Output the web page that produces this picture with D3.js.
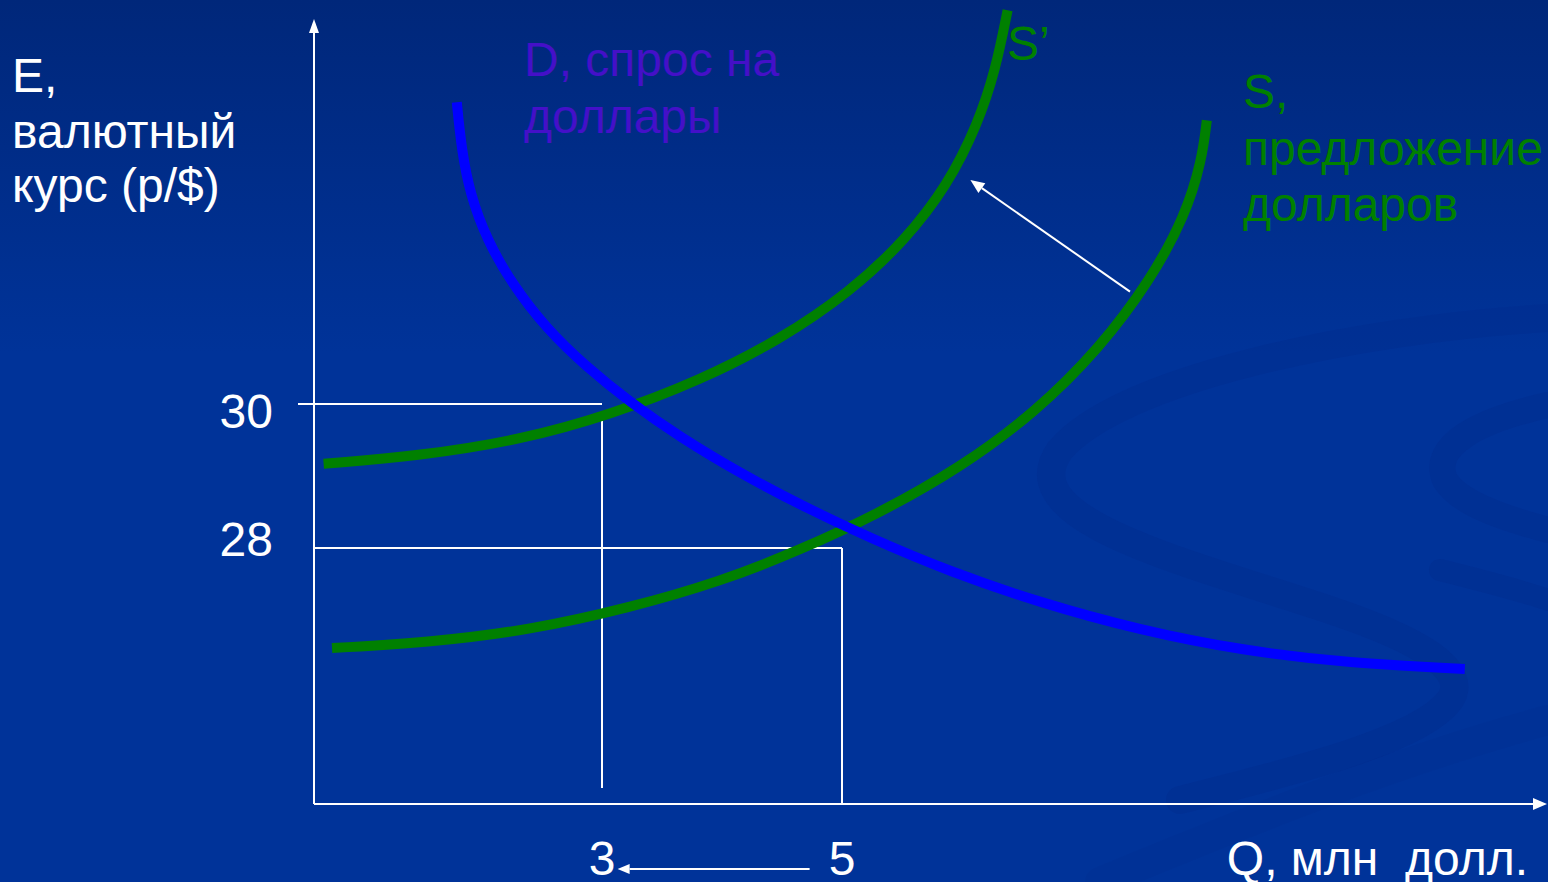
<!DOCTYPE html>
<html>
<head>
<meta charset="utf-8">
<script src="https://cdn.jsdelivr.net/npm/d3@7"></script>
<style>
  html, body { margin: 0; padding: 0; background: #003399; overflow: hidden; }
  svg { display: block; font-family: "Liberation Sans", Arial, sans-serif; }
  text { white-space: pre; }
</style>
</head>
<body>
<svg id="chart" width="1548" height="882"></svg>
<script>
// demand for dollars, D  [quantity, rate]
const demand = [
  [1.79, 34.19], [1.83, 33.53], [1.90, 32.92], [2.04, 32.28], [2.25, 31.67],
  [2.53, 31.06], [2.86, 30.53], [3.23, 30.03], [3.65, 29.54], [4.15, 29.04],
  [4.65, 28.60], [5.23, 28.14], [5.90, 27.67], [6.65, 27.24], [7.48, 26.86],
  [8.32, 26.58], [9.23, 26.40], [10.19, 26.32]
]

// supply of dollars, S
const supply = [
  [0.75, 26.61], [1.57, 26.69], [2.40, 26.86], [3.23, 27.17], [3.98, 27.53],
  [4.65, 27.97], [5.32, 28.49], [5.98, 29.11], [6.61, 29.88], [7.15, 30.78],
  [7.57, 31.72], [7.86, 32.61], [8.00, 33.39], [8.04, 33.94]
]

// shifted supply, S'
const supplyShift = [
  [0.68, 29.17], [1.48, 29.28], [2.32, 29.50], [3.07, 29.85], [3.82, 30.33],
  [4.48, 30.89], [5.07, 31.56], [5.53, 32.28], [5.88, 33.04], [6.13, 33.88],
  [6.28, 34.64], [6.38, 35.47]
]

const rateTicks = [30, 28]
const qtyTicks = [3, 5]

const width = 1548, height = 882
const svg = d3.select('#chart')

// scales anchored on the two marked values of each axis
const x = d3.scaleLinear().domain([3, 5]).range([602, 842])
const y = d3.scaleLinear().domain([28, 30]).range([548, 404])

const originX = 314, originY = 804

// background
const defs = svg.append('defs')
const grad = defs.append('linearGradient')
  .attr('id', 'bg').attr('x1', 0).attr('y1', 0).attr('x2', 0).attr('y2', 1)
grad.append('stop').attr('offset', '0%').attr('stop-color', '#00277a')
grad.append('stop').attr('offset', '40%').attr('stop-color', '#003399')
grad.append('stop').attr('offset', '100%').attr('stop-color', '#003399')

svg.append('rect')
  .attr('width', width).attr('height', height)
  .attr('fill', 'url(#bg)')

// faint swirl in the background on the right
const swirl = svg.append('g')
  .attr('fill', 'none')
  .attr('stroke', '#002c8e')
  .attr('stroke-opacity', 0.45)
  .attr('stroke-linecap', 'round')

swirl.append('path')
  .attr('stroke-width', 28)
  .attr('d', 'M1548,318 C1350,330 1120,380 1060,450 C1010,520 1180,560 1330,610 C1420,640 1470,670 1450,700 C1420,740 1300,770 1180,800')
swirl.append('path')
  .attr('stroke-width', 26)
  .attr('d', 'M1548,405 C1480,420 1430,445 1445,480 C1460,505 1510,520 1548,530')
swirl.append('path')
  .attr('stroke-width', 22)
  .attr('d', 'M1440,570 C1480,580 1520,590 1548,600')
swirl.append('path')
  .attr('stroke-width', 30)
  .attr('stroke-opacity', 0.2)
  .attr('d', 'M1100,882 C1250,820 1400,760 1548,720')

// guide lines
const guides = svg.append('g')
  .attr('stroke', '#ffffff')
  .attr('stroke-width', 2)

guides.append('line')
  .attr('x1', originX - 16).attr('x2', x(3))
  .attr('y1', y(30)).attr('y2', y(30))
guides.append('line')
  .attr('x1', x(3)).attr('x2', x(3))
  .attr('y1', y(30) + 17).attr('y2', originY - 16)
guides.append('line')
  .attr('x1', originX).attr('x2', x(5))
  .attr('y1', y(28)).attr('y2', y(28))
guides.append('line')
  .attr('x1', x(5)).attr('x2', x(5))
  .attr('y1', y(28)).attr('y2', originY)

// axes
guides.append('line')
  .attr('x1', originX).attr('x2', originX)
  .attr('y1', originY).attr('y2', 30)
guides.append('line')
  .attr('x1', originX).attr('x2', 1536)
  .attr('y1', originY).attr('y2', originY)

svg.append('path')
  .attr('fill', '#ffffff')
  .attr('d', `M${originX},19 L${originX - 5},33 L${originX + 5},33 Z`)
svg.append('path')
  .attr('fill', '#ffffff')
  .attr('d', `M1547,${originY} L1533,${originY - 6} L1533,${originY + 6} Z`)

// curves
const line = d3.line()
  .x(d => x(d[0]))
  .y(d => y(d[1]))
  .curve(d3.curveBasis)

svg.append('path')
  .datum(supplyShift)
  .attr('d', line)
  .attr('fill', 'none')
  .attr('stroke', '#008000')
  .attr('stroke-width', 10)

svg.append('path')
  .datum(supply)
  .attr('d', line)
  .attr('fill', 'none')
  .attr('stroke', '#008000')
  .attr('stroke-width', 10)

svg.append('path')
  .datum(demand)
  .attr('d', line)
  .attr('fill', 'none')
  .attr('stroke', '#0000ff')
  .attr('stroke-width', 10)

// arrows
function arrow(x1, y1, x2, y2, len, half) {
  const ang = Math.atan2(y2 - y1, x2 - x1)
  const bx = x2 - len * Math.cos(ang), by = y2 - len * Math.sin(ang)
  svg.append('line')
    .attr('x1', x1).attr('y1', y1).attr('x2', bx).attr('y2', by)
    .attr('stroke', '#ffffff').attr('stroke-width', 2)
  const px = -Math.sin(ang) * half, py = Math.cos(ang) * half
  svg.append('path')
    .attr('fill', '#ffffff')
    .attr('d', `M${x2},${y2} L${bx + px},${by + py} L${bx - px},${by - py} Z`)
}

// shift of supply curve
arrow(x(7.4), y(31.56), x(6.07), y(33.11), 14, 6)
// fall in quantity
arrow(x(4.73), 869, x(3.13), 869, 12, 5)

// texts
const fontSize = 48

const yTitle = svg.append('text')
  .attr('fill', '#ffffff')
  .attr('font-size', fontSize)
;[['E,', 92], ['валютный', 148], ['курс (р/$)', 202]].forEach(([t, by]) => {
  yTitle.append('tspan').attr('x', 12).attr('y', by).text(t)
})

svg.selectAll('.rate-label')
  .data(rateTicks)
  .join('text')
  .attr('class', 'rate-label')
  .attr('x', 273)
  .attr('y', d => d === 30 ? y(d) + 24 : y(d) + 8)
  .attr('text-anchor', 'end')
  .attr('fill', '#ffffff')
  .attr('font-size', fontSize)
  .text(d => d)

svg.selectAll('.qty-label')
  .data(qtyTicks)
  .join('text')
  .attr('class', 'qty-label')
  .attr('x', d => x(d))
  .attr('y', 875)
  .attr('text-anchor', 'middle')
  .attr('fill', '#ffffff')
  .attr('font-size', fontSize)
  .text(d => d)

svg.append('text')
  .attr('x', 1528)
  .attr('y', 875)
  .attr('text-anchor', 'end')
  .attr('fill', '#ffffff')
  .attr('font-size', fontSize)
  .text('Q, млн  долл.')

const dLabel = svg.append('text')
  .attr('fill', '#4410c8')
  .attr('font-size', fontSize)
;[['D, спрос на', 76], ['доллары', 133]].forEach(([t, by]) => {
  dLabel.append('tspan').attr('x', 524).attr('y', by).text(t)
})

const sLabel = svg.append('text')
  .attr('fill', '#008000')
  .attr('font-size', fontSize)
;[['S,', 108], ['предложение', 165], ['долларов', 221]].forEach(([t, by]) => {
  sLabel.append('tspan').attr('x', 1243).attr('y', by).text(t)
})

svg.append('text')
  .attr('x', 1007)
  .attr('y', 60)
  .attr('fill', '#008000')
  .attr('font-size', fontSize)
  .text('S’')
</script>
</body>
</html>
